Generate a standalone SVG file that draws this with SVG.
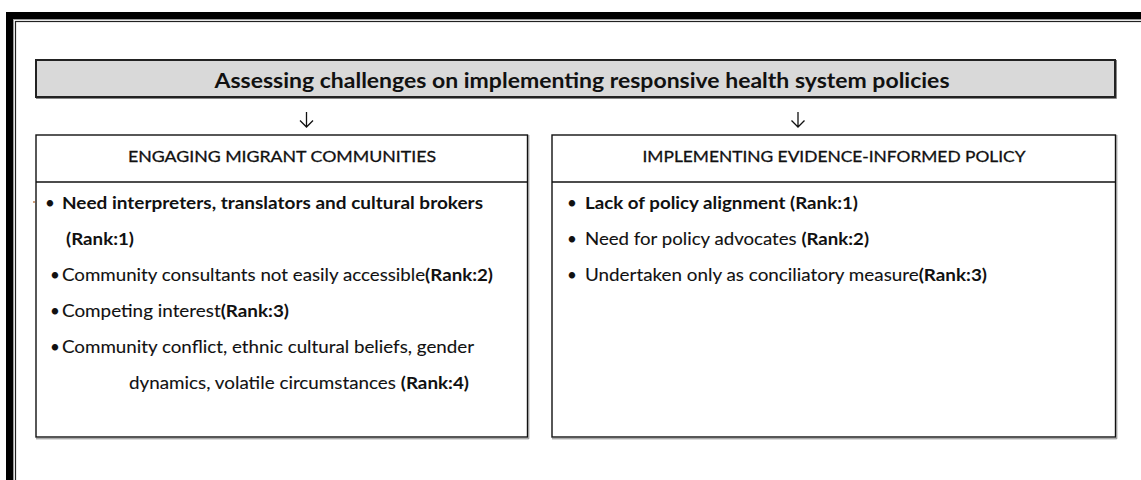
<svg xmlns="http://www.w3.org/2000/svg" width="1141" height="480" viewBox="0 0 1141 480">
<style>
.t{font-family:Lato,"Open Sans","Liberation Sans",sans-serif;fill:#111;stroke:#111;stroke-width:0.1}
.b{font-weight:bold;stroke-width:0}
.h{stroke-width:0.3}
.box{fill:#fff;stroke:#111;stroke-width:1.4}
.sh{fill:none;stroke:#888;stroke-width:1}
.arr{fill:none;stroke:#111;stroke-width:1.3}
</style>
<rect width="1141" height="480" fill="#fff"/>
<g id="frame">
<rect x="9.5" y="15.5" width="1200" height="600" fill="none" stroke="#000" stroke-width="7"/>
<rect x="13.5" y="19.5" width="1200" height="600" fill="none" stroke="#999" stroke-width="1"/>
<rect x="15.5" y="21.5" width="1200" height="600" fill="none" stroke="#222" stroke-width="1.2"/>
</g>
<g id="title">
<rect x="36" y="60" width="1079" height="37" fill="#d9d9d9" stroke="#222" stroke-width="2"/>
<path class="sh" d="M1116.5 60 V98.5 H36"/>
<text class="t b" x="582" y="87.5" font-size="21" text-anchor="middle" textLength="735" lengthAdjust="spacingAndGlyphs">Assessing challenges on implementing responsive health system policies</text>
</g>
<g id="connectors">
<path class="arr" d="M306.5 112 V127 M300 120.5 L306.5 127 L313 120.5"/>
<path class="arr" d="M798 112 V127 M791.5 120.5 L798 127 L804.5 120.5"/>
</g>
<g id="engaging">
<rect class="box" x="36" y="135" width="491.5" height="302"/>
<line x1="36" y1="182" x2="527.5" y2="182" stroke="#111" stroke-width="1.4"/>
<path class="sh" d="M528.8 135 V438.8 H36"/>
<text class="t h" x="282" y="161.5" font-size="16" text-anchor="middle" textLength="308" lengthAdjust="spacingAndGlyphs">ENGAGING MIGRANT COMMUNITIES</text>
<circle cx="34" cy="202" r="1" fill="#c08050"/>
<text class="t" x="45" y="208.5" font-size="17">•</text>
<text class="t b" x="62" y="208.5" font-size="17" textLength="421" lengthAdjust="spacingAndGlyphs">Need interpreters, translators and cultural brokers</text>
<text class="t b" x="66" y="244.5" font-size="17" textLength="68" lengthAdjust="spacingAndGlyphs">(Rank:1)</text>
<text class="t" x="50" y="280.5" font-size="17">•</text>
<text class="t" x="62" y="280.5" font-size="17" textLength="431" lengthAdjust="spacingAndGlyphs">Community consultants not easily accessible<tspan class="b">(Rank:2)</tspan></text>
<text class="t" x="50" y="316.5" font-size="17">•</text>
<text class="t" x="62" y="316.5" font-size="17" textLength="227" lengthAdjust="spacingAndGlyphs">Competing interest<tspan class="b">(Rank:3)</tspan></text>
<text class="t" x="50" y="352.5" font-size="17">•</text>
<text class="t" x="62" y="352.5" font-size="17" textLength="412" lengthAdjust="spacingAndGlyphs">Community conflict, ethnic cultural beliefs, gender</text>
<text class="t" x="129" y="388.5" font-size="17" textLength="340" lengthAdjust="spacingAndGlyphs">dynamics, volatile circumstances <tspan class="b">(Rank:4)</tspan></text>
</g>
<g id="implementing">
<rect class="box" x="552" y="135" width="563.5" height="302"/>
<line x1="552" y1="182" x2="1115.5" y2="182" stroke="#111" stroke-width="1.4"/>
<path class="sh" d="M1116.8 135 V438.8 H552"/>
<text class="t h" x="834" y="161.5" font-size="16" text-anchor="middle" textLength="383" lengthAdjust="spacingAndGlyphs">IMPLEMENTING EVIDENCE-INFORMED POLICY</text>
<text class="t" x="567" y="208.5" font-size="17">•</text>
<text class="t b" x="585" y="208.5" font-size="17" textLength="273" lengthAdjust="spacingAndGlyphs">Lack of policy alignment (Rank:1)</text>
<text class="t" x="567" y="244.5" font-size="17">•</text>
<text class="t" x="585" y="244.5" font-size="17" textLength="284" lengthAdjust="spacingAndGlyphs">Need for policy advocates <tspan class="b">(Rank:2)</tspan></text>
<text class="t" x="567" y="280.5" font-size="17">•</text>
<text class="t" x="585" y="280.5" font-size="17" textLength="402" lengthAdjust="spacingAndGlyphs">Undertaken only as conciliatory measure<tspan class="b">(Rank:3)</tspan></text>
</g>
</svg>
